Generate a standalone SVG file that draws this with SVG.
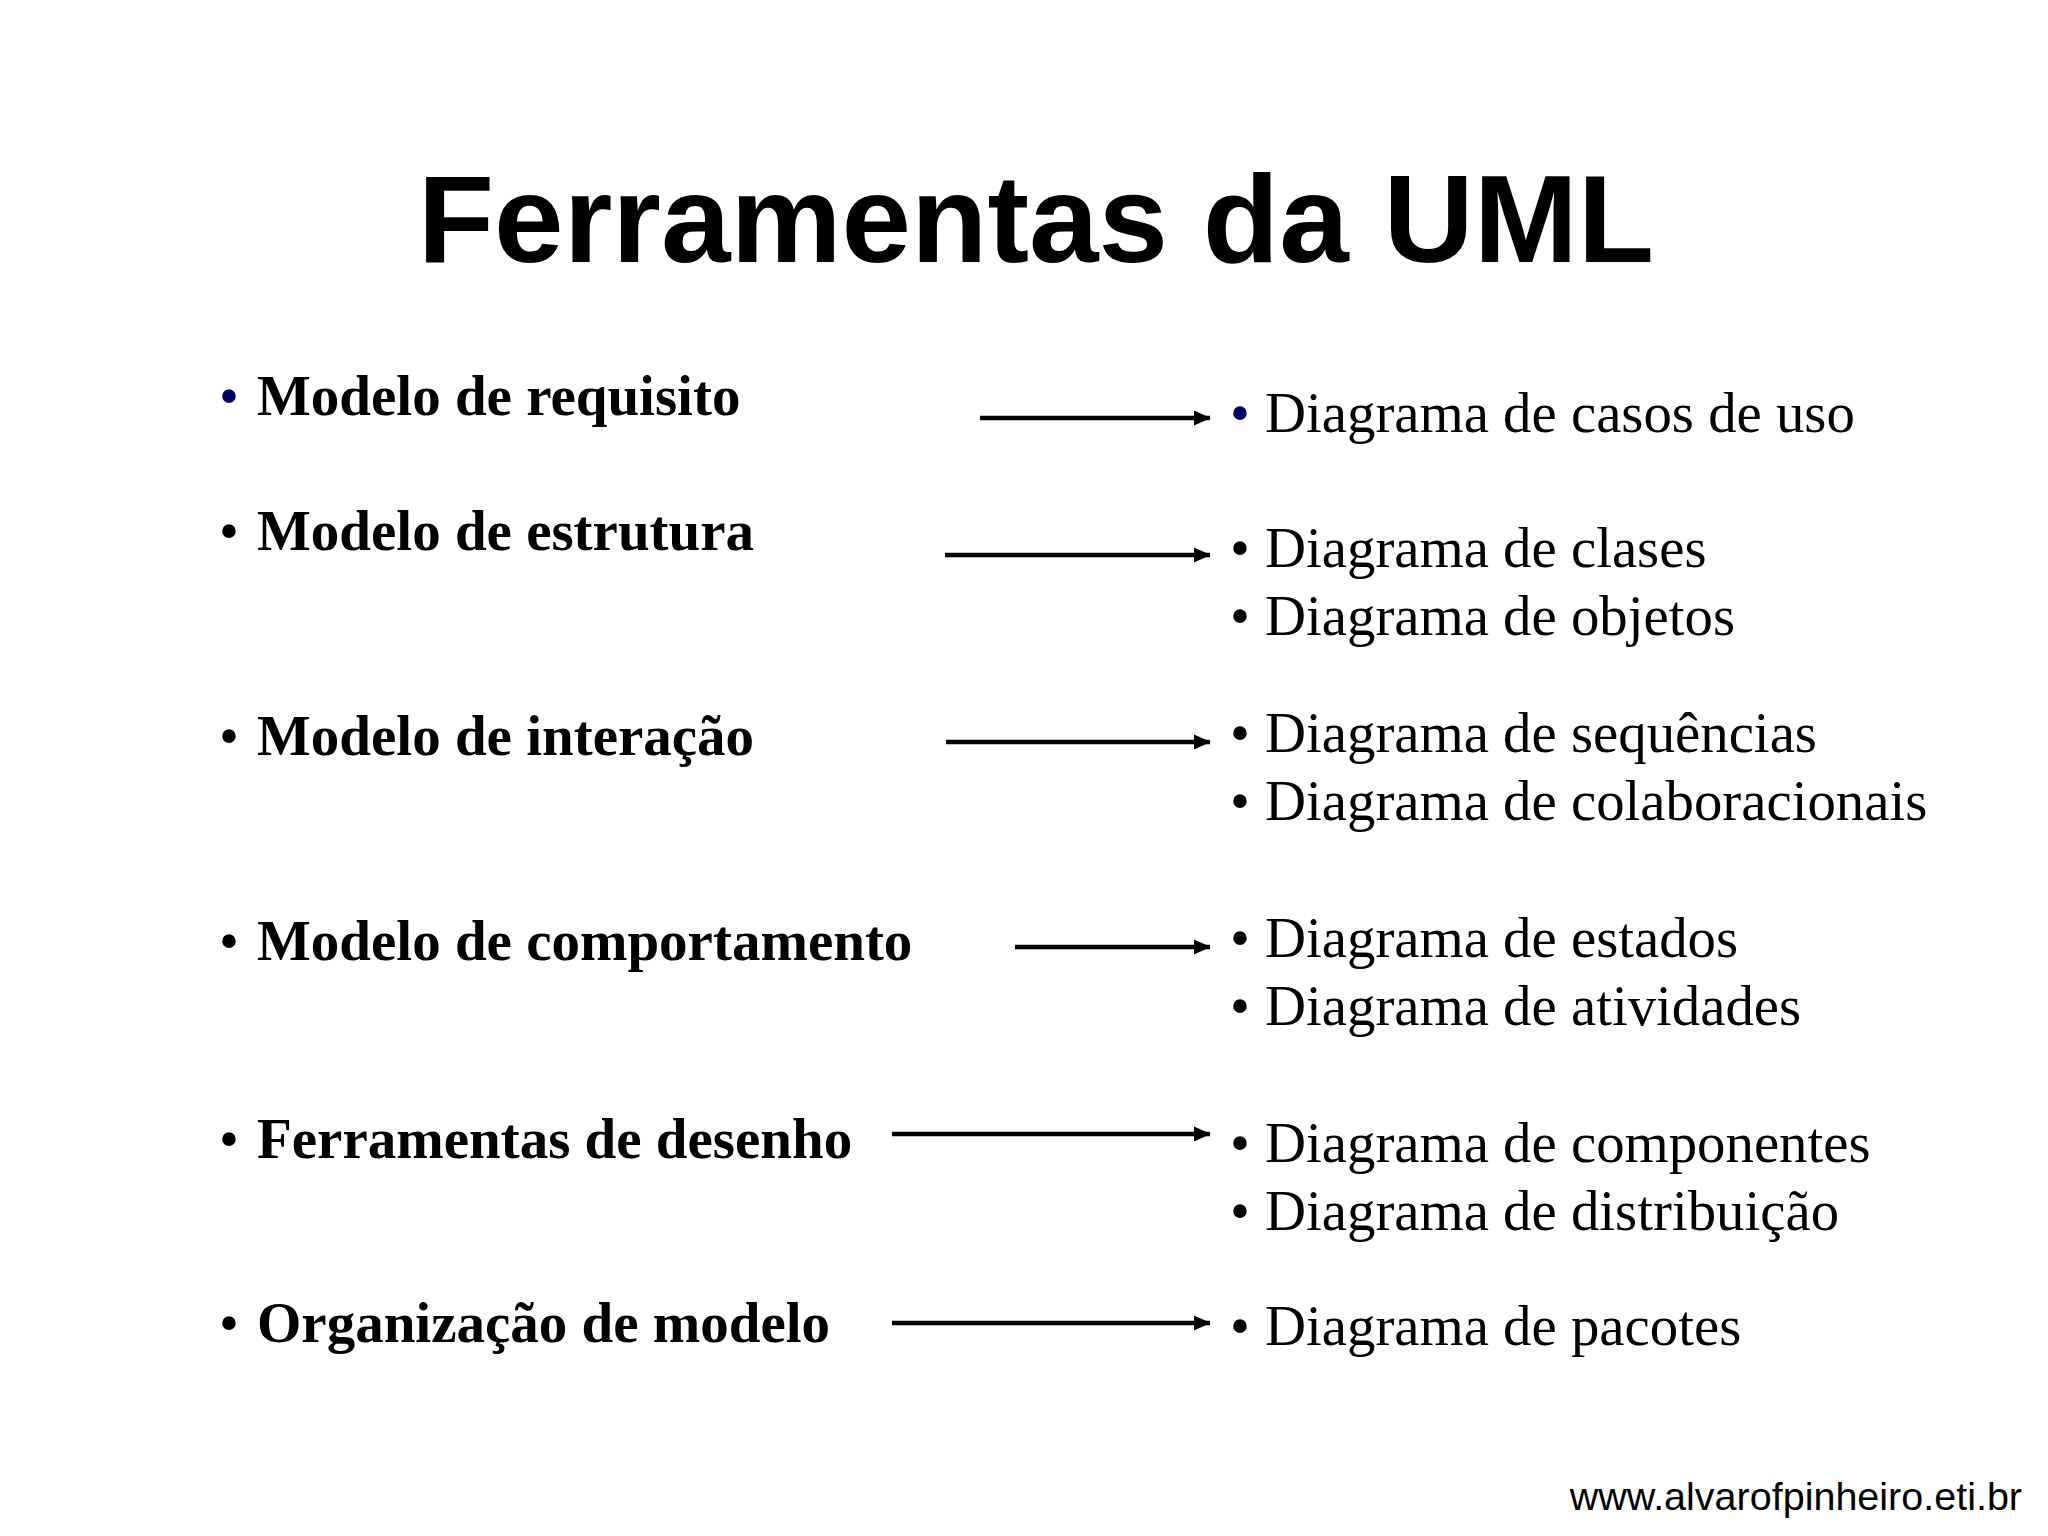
<svg xmlns="http://www.w3.org/2000/svg" width="2048" height="1536" viewBox="0 0 2048 1536">
<style>
.title{font-family:"Liberation Sans",Arial,sans-serif;font-weight:bold;font-size:125px;fill:#000}
.left{font-family:"Liberation Serif","Times New Roman",serif;font-weight:bold;font-size:57px;fill:#000}
.right{font-family:"Liberation Serif","Times New Roman",serif;font-size:56.8px;fill:#000}
.bul{font-family:"Liberation Serif","Times New Roman",serif;font-size:57px;fill:#000}
.navy{fill:#000066}
.foot{font-family:"Liberation Sans",Arial,sans-serif;font-size:39.5px;fill:#000}
.arr{stroke:#000;stroke-width:4.5;fill:none;marker-end:url(#ah)}
</style>
<defs>
<marker id="ah" markerWidth="5" markerHeight="5" refX="3.6" refY="2" orient="auto" markerUnits="strokeWidth">
<path d="M0,0.3 L3.8,2 L0,3.7 Z" fill="#000"/>
</marker>
</defs>
<rect width="2048" height="1536" fill="#fff"/>
<text id="title" class="title" x="1036" y="262" text-anchor="middle">Ferramentas da UML</text>

<g id="n-requisito"><text class="bul navy" x="219" y="415">•</text><text class="left" x="257" y="415">Modelo de requisito</text></g>
<g id="n-estrutura"><text class="bul" x="219" y="550">•</text><text class="left" x="257" y="550">Modelo de estrutura</text></g>
<g id="n-interacao"><text class="bul" x="219" y="755">•</text><text class="left" x="257" y="755">Modelo de interação</text></g>
<g id="n-comportamento"><text class="bul" x="219" y="960">•</text><text class="left" x="257" y="960">Modelo de comportamento</text></g>
<g id="n-desenho"><text class="bul" x="219" y="1158">•</text><text class="left" x="257" y="1158">Ferramentas de desenho</text></g>
<g id="n-organizacao"><text class="bul" x="219" y="1342">•</text><text class="left" x="257" y="1342">Organização de modelo</text></g>

<g id="r-casos"><text class="bul navy" x="1230" y="432">•</text><text class="right" x="1265" y="432">Diagrama de casos de uso</text></g>
<g id="r-clases"><text class="bul" x="1230" y="567">•</text><text class="right" x="1265" y="567">Diagrama de clases</text><text class="bul" x="1230" y="635">•</text><text class="right" x="1265" y="635">Diagrama de objetos</text></g>
<g id="r-sequencias"><text class="bul" x="1230" y="752">•</text><text class="right" x="1265" y="752">Diagrama de sequências</text><text class="bul" x="1230" y="820">•</text><text class="right" x="1265" y="820">Diagrama de colaboracionais</text></g>
<g id="r-estados"><text class="bul" x="1230" y="957">•</text><text class="right" x="1265" y="957">Diagrama de estados</text><text class="bul" x="1230" y="1025">•</text><text class="right" x="1265" y="1025">Diagrama de atividades</text></g>
<g id="r-componentes"><text class="bul" x="1230" y="1162">•</text><text class="right" x="1265" y="1162">Diagrama de componentes</text><text class="bul" x="1230" y="1230">•</text><text class="right" x="1265" y="1230">Diagrama de distribuição</text></g>
<g id="r-pacotes"><text class="bul" x="1230" y="1345">•</text><text class="right" x="1265" y="1345">Diagrama de pacotes</text></g>

<g id="connectors">
<line class="arr" x1="980" y1="418" x2="1210" y2="418"/>
<line class="arr" x1="945" y1="555" x2="1210" y2="555"/>
<line class="arr" x1="946" y1="742" x2="1210" y2="742"/>
<line class="arr" x1="1015" y1="947" x2="1210" y2="947"/>
<line class="arr" x1="892" y1="1134" x2="1210" y2="1134"/>
<line class="arr" x1="892" y1="1323" x2="1210" y2="1323"/>
</g>

<text id="footer" class="foot" x="2022" y="1510" text-anchor="end">www.alvarofpinheiro.eti.br</text>
</svg>
